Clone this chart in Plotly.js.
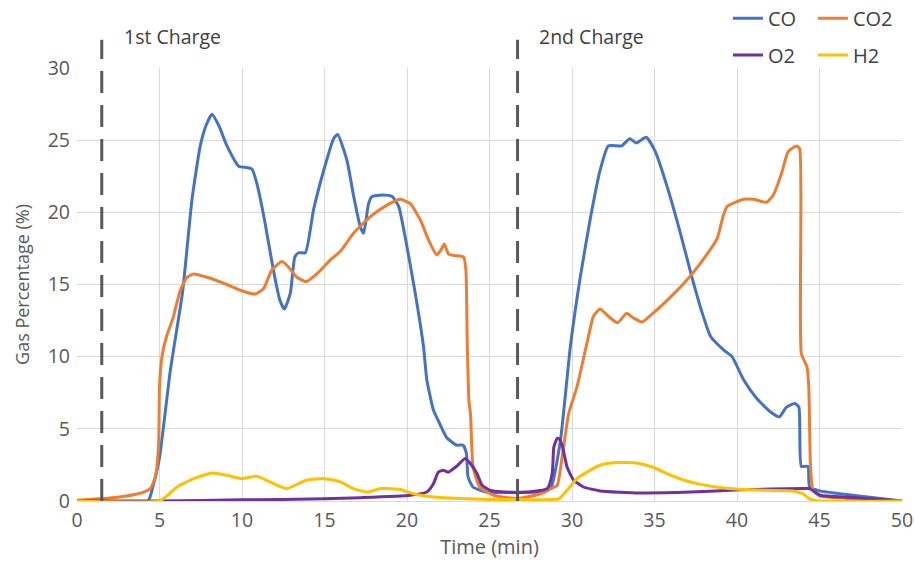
<!DOCTYPE html>
<html>
<head>
<meta charset="utf-8">
<script src="https://cdn.plot.ly/plotly-3.0.1.min.js"></script>
<style>html,body{margin:0;padding:0;background:#fff;}#chart{width:914px;height:561px;}</style>
</head>
<body>
<div id="chart"></div>
<script>
const seriesNames = ["CO", "CO2", "O2", "H2"];
const seriesColors = ["#4472C4", "#ED7D31", "#7030A0", "#FFC000"];

const coTime = [0, 4.3, 4.6, 5.0, 5.65, 6.4, 6.97, 7.47, 7.85, 8.18, 8.6, 9.09, 9.8, 10.3, 10.6, 10.9, 11.4, 11.9, 12.3, 12.57, 12.93, 13.2, 13.43, 13.84, 14.34, 14.95, 15.55, 15.8, 16.36, 16.77, 17.17, 17.37, 17.67, 17.88, 18.5, 19.1, 19.5, 20.0, 20.5, 21.0, 21.2, 21.6, 21.8, 22.4, 23.0, 23.4, 23.6, 23.7, 24.0, 24.8, 26, 27, 28, 28.7, 29.3, 29.9, 30.5, 31.1, 31.7, 32.2, 33.0, 33.5, 33.9, 34.5, 35.05, 35.76, 36.56, 37.27, 37.9, 38.4, 39.2, 39.7, 40.4, 41.2, 42.0, 42.56, 43.0, 43.5, 43.75, 43.9, 44.3, 44.4, 45, 47, 50];
const coValue = [0, 0, 1, 3, 9, 14.5, 20.9, 24.6, 26.1, 26.8, 26, 24.6, 23.2, 23.1, 23.0, 22.0, 19.25, 16.0, 13.9, 13.3, 14.4, 16.9, 17.2, 17.2, 20.2, 22.9, 25.1, 25.4, 23.6, 21.1, 19.0, 18.55, 20.6, 21.1, 21.2, 21.1, 20.4, 17.6, 14.4, 10.7, 8.4, 6.3, 5.8, 4.4, 3.87, 3.87, 3.3, 1.67, 0.97, 0.62, 0.6, 0.6, 0.62, 0.86, 4.2, 10.7, 15.5, 19.5, 22.9, 24.6, 24.6, 25.1, 24.8, 25.2, 24.2, 21.8, 18.6, 15.5, 13, 11.4, 10.46, 10.0, 8.4, 7.1, 6.2, 5.83, 6.5, 6.76, 6.5, 2.4, 2.4, 0.97, 0.7, 0.4, 0];

const co2Time = [0, 2, 3, 3.5, 4.0, 4.44, 4.75, 4.95, 5.0, 5.15, 5.45, 5.8, 6.26, 6.67, 7.07, 7.88, 9.09, 9.9, 10.8, 11.3, 11.8, 12.42, 12.83, 13.33, 13.9, 14.6, 15.35, 15.96, 16.76, 17.78, 18.79, 19.6, 20.2, 20.8, 21.3, 21.8, 22.06, 22.26, 22.52, 22.93, 23.43, 23.57, 23.65, 23.75, 23.85, 24.0, 24.4, 25.25, 26.67, 28.1, 28.7, 29.1, 29.4, 29.8, 30.3, 30.9, 31.3, 31.7, 32.2, 32.76, 33.3, 33.7, 34.24, 34.9, 35.76, 36.8, 37.8, 38.8, 39.15, 39.4, 40.4, 41.0, 41.8, 42.2, 42.7, 43.1, 43.6, 43.8, 43.9, 44.24, 44.35, 44.45, 44.6, 45, 47, 50];
const co2Value = [0.05, 0.2, 0.35, 0.45, 0.6, 0.85, 1.67, 4.0, 7.9, 10.0, 11.5, 12.6, 14.6, 15.5, 15.73, 15.5, 15.0, 14.6, 14.34, 14.7, 16.0, 16.6, 16.2, 15.5, 15.2, 15.8, 16.7, 17.3, 18.55, 19.7, 20.5, 20.9, 20.6, 19.5, 18.1, 17.05, 17.4, 17.8, 17.1, 17.0, 16.9, 16.0, 11, 7.0, 6.0, 2.4, 0.97, 0.4, 0.17, 0.5, 0.85, 1.09, 3.05, 6.06, 7.9, 10.9, 12.8, 13.3, 12.8, 12.35, 13.0, 12.7, 12.4, 13.0, 13.9, 15.1, 16.5, 18.2, 19.7, 20.4, 20.9, 20.9, 20.7, 21.2, 22.7, 24.2, 24.6, 24.4, 10.2, 9.3, 7.9, 2.5, 0.74, 0.35, 0.15, 0];

const o2Time = [0, 5, 10, 15, 17.2, 20.2, 21.2, 21.6, 21.9, 22.2, 22.5, 23.0, 23.53, 23.84, 24.24, 24.55, 25.05, 26.67, 28.5, 28.8, 28.9, 29.1, 29.2, 29.4, 29.7, 30.1, 30.7, 31.7, 34.1, 37.2, 40.2, 44.0, 44.4, 45.05, 47, 50];
const o2Value = [0, 0, 0.08, 0.15, 0.23, 0.4, 0.62, 1.2, 2.0, 2.13, 2.0, 2.4, 2.94, 2.6, 1.9, 1.09, 0.74, 0.58, 0.86, 1.9, 3.75, 4.33, 4.33, 3.87, 2.36, 1.44, 0.97, 0.7, 0.56, 0.62, 0.78, 0.86, 0.86, 0.4, 0.25, 0];

const h2Time = [0, 5.0, 5.5, 6.06, 7.07, 8.18, 9.09, 10.0, 10.9, 11.7, 12.7, 13.9, 15.05, 15.96, 16.76, 17.6, 18.4, 19.6, 20.4, 21.6, 23.2, 25, 27, 29.2, 29.7, 30.3, 30.9, 31.7, 32.7, 33.9, 34.95, 35.76, 36.8, 37.8, 39.2, 40.6, 41.8, 43.4, 44.0, 44.4, 45, 50];
const h2Value = [0, 0, 0.4, 0.97, 1.55, 1.94, 1.78, 1.55, 1.71, 1.32, 0.86, 1.44, 1.55, 1.32, 0.86, 0.62, 0.86, 0.8, 0.5, 0.28, 0.17, 0.1, 0.1, 0.15, 0.74, 1.55, 2.0, 2.48, 2.66, 2.64, 2.32, 1.9, 1.44, 1.15, 0.9, 0.79, 0.74, 0.7, 0.5, 0.15, 0, 0];

const chargeTimes = [1.5, 26.7];
const chargeLabels = ["1st Charge", "2nd Charge"];
const chargeLabelX = [2.7, 27.85];

const xTicks = [0, 5, 10, 15, 20, 25, 30, 35, 40, 45, 50];
const yTicks = [0, 5, 10, 15, 20, 25, 30];

const times = [coTime, co2Time, o2Time, h2Time];
const values = [coValue, co2Value, o2Value, h2Value];
const legendIds = ["legend", "legend", "legend2", "legend2"];

const FONT = "Open Sans, Noto Sans, sans-serif";

const traces = seriesNames.map((n, i) => ({
  x: times[i], y: values[i], name: n, type: "scatter", mode: "lines",
  line: {color: seriesColors[i], width: 3, shape: "spline", smoothing: 0.5},
  legend: legendIds[i], hoverinfo: "skip"
}));

const shapes = chargeTimes.map(t => ({
  type: "line", xref: "x", yref: "paper", x0: t, x1: t, y0: 0, y1: 1.065,
  line: {color: "#595959", width: 3, dash: "22px,12px"}
}));

const annotations = chargeLabels.map((txt, i) => ({
  text: txt, xref: "x", yref: "paper", x: chargeLabelX[i], y: 1.072,
  xanchor: "left", yanchor: "middle", showarrow: false,
  font: {family: FONT, size: 19.5, color: "#404040"}
}));

const legendCommon = {
  orientation: "h", xanchor: "left", yanchor: "middle",
  font: {family: FONT, size: 20, color: "#404040"},
  bgcolor: "rgba(0,0,0,0)", itemwidth: 30, tracegroupgap: 0, entrywidth: 40
};

const layout = {
  width: 914, height: 561,
  margin: {l: 77, r: 12, t: 68, b: 60, autoexpand: false},
  paper_bgcolor: "#fff", plot_bgcolor: "#fff",
  showlegend: true,
  legend: Object.assign({}, legendCommon, {x: 0.789, y: 1.115}),
  legend2: Object.assign({}, legendCommon, {x: 0.789, y: 1.03}),
  xaxis: {
    range: [0, 50], tickvals: xTicks, ticktext: xTicks.map(String),
    showgrid: true, gridcolor: "#d9d9d9", gridwidth: 1, zeroline: false,
    showline: true, linecolor: "#d9d9d9", ticks: "", mirror: false,
    tickfont: {family: FONT, size: 19.5, color: "#595959"},
    ticklabelstandoff: 2,
    title: {text: "Time (min)", font: {family: FONT, size: 20, color: "#595959"}, standoff: 5},
    automargin: false
  },
  yaxis: {
    range: [0, 30], tickvals: yTicks, ticktext: yTicks.map(String),
    showgrid: true, gridcolor: "#d9d9d9", gridwidth: 1, zeroline: false,
    showline: false, ticks: "",
    tickfont: {family: FONT, size: 19.5, color: "#595959"},
    ticklabelstandoff: 6,
    title: {text: "Gas Percentage (%)", font: {family: FONT, size: 18, color: "#595959"}, standoff: 13},
    automargin: false
  },
  shapes: shapes,
  annotations: annotations
};

Plotly.newPlot("chart", traces, layout, {displayModeBar: false, staticPlot: true});
</script>
</body>
</html>
